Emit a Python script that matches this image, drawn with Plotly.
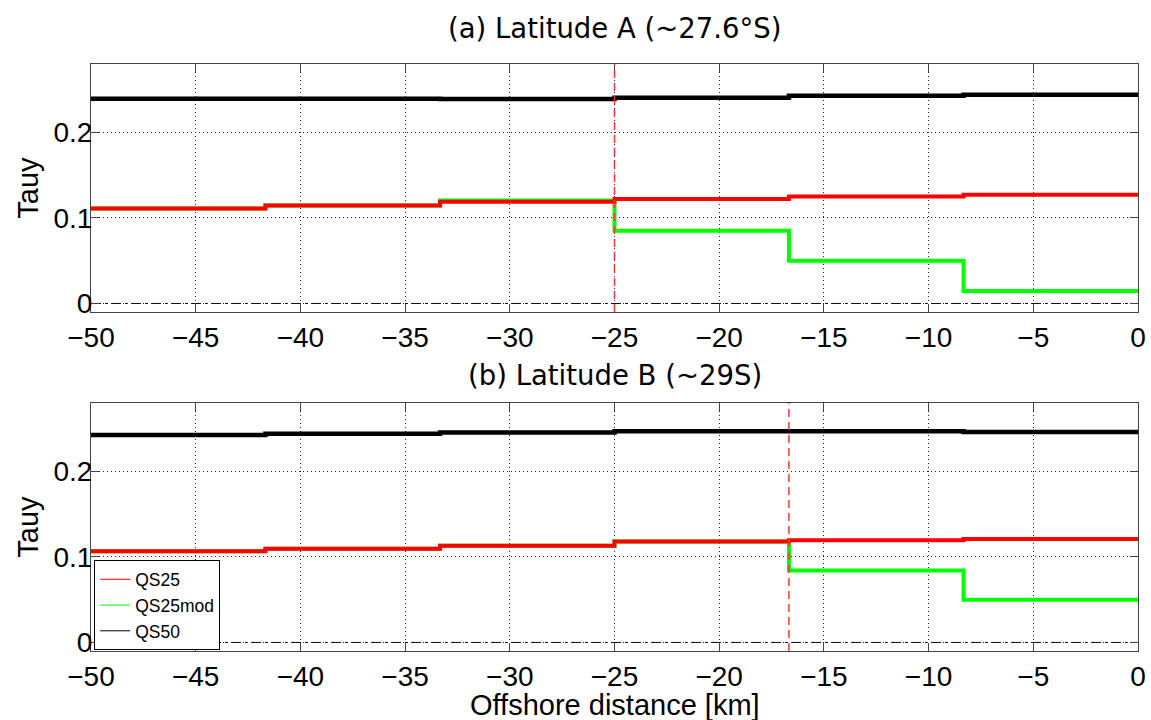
import plotly.graph_objects as go

# step edges (km)
edges = [-50, -41.67, -33.33, -25, -16.67, -8.33, 0]

# Panel (a) Latitude A
a_qs25 = [0.111, 0.1145, 0.119, 0.122, 0.125, 0.127]
a_qs25mod = [0.111, 0.1145, 0.1205, 0.085, 0.050, 0.0145]
a_qs50 = [0.2395, 0.2395, 0.239, 0.2405, 0.243, 0.244]
a_cut = -25

# Panel (b) Latitude B
b_qs25 = [0.1065, 0.1095, 0.113, 0.118, 0.1195, 0.121]
b_qs25mod = [0.1065, 0.1095, 0.113, 0.118, 0.084, 0.050]
b_qs50 = [0.2425, 0.244, 0.2455, 0.247, 0.247, 0.246]
b_cut = -16.67

x_ticks = [-50, -45, -40, -35, -30, -25, -20, -15, -10, -5, 0]
y_ticks = [0, 0.1, 0.2]
y_ticktext = ["0", "0.1", "0.2"]

titles = ["(a) Latitude A (~27.6°S)", "(b) Latitude B (~29S)"]
x_label = "Offshore distance [km]"
names = ["QS25", "QS25mod", "QS50"]
colors = ["#ff0000", "#00ff00", "#000000"]

def step(vals):
    return list(edges), list(vals) + [vals[-1]]

fig = go.Figure()

panels = [
    ("x", "y", a_qs25, a_qs25mod, a_qs50),
    ("x2", "y2", b_qs25, b_qs25mod, b_qs50),
]
for xa, ya, r, g, k in panels:
    for vals, col, w in [(k, colors[2], 4.5), (g, colors[1], 4), (r, colors[0], 4)]:
        xs, ys = step(vals)
        fig.add_trace(go.Scatter(x=xs, y=ys, mode="lines", line=dict(color=col, width=w, shape="hv"),
                                 xaxis=xa, yaxis=ya, showlegend=False, hoverinfo="skip"))

# legend entries (thin lines)
for n, c in zip(names, colors):
    fig.add_trace(go.Scatter(x=[None], y=[None], mode="lines", name=n,
                             line=dict(color=c, width=1), xaxis="x2", yaxis="y2"))

shapes = []
for xa, ya, cut in [("x", "y", a_cut), ("x2", "y2", b_cut)]:
    shapes.append(dict(type="line", xref=xa, yref=ya + " domain", x0=cut, x1=cut, y0=0, y1=1,
                       line=dict(color="#ff3535", width=1.5, dash="8px,5px"), layer="above"))
    shapes.append(dict(type="line", xref=xa + " domain", yref=ya, x0=0, x1=1, y0=0, y1=0,
                       line=dict(color="#000000", width=1, dash="10px,4px,2px,4px"), layer="below"))

SANS = "Liberation Sans, Arial, Helvetica, sans-serif"
tickfont = dict(family=SANS, size=28, color="#000")
axis_common = dict(showline=True, linecolor="#444", linewidth=1, mirror="ticks", ticks="inside",
                   ticklen=8, tickcolor="#444", showgrid=True, gridcolor="#222", gridwidth=1,
                   griddash="1px,3px", zeroline=False, tickfont=tickfont, automargin=False)
ytitle = dict(text="Tauy", font=dict(family=SANS, size=29, color="#000"), standoff=6)

fig.update_layout(
    width=1151, height=720,
    margin=dict(l=91, r=13, t=64, b=69),
    plot_bgcolor="white", paper_bgcolor="white",
    xaxis=dict(axis_common, domain=[0, 1], range=[-50, 0], tickvals=x_ticks, anchor="y"),
    yaxis=dict(axis_common, domain=[0.5775, 1], range=[-0.01, 0.28], tickvals=y_ticks,
               ticktext=y_ticktext, anchor="x", ticklabelstandoff=-8, title=ytitle),
    xaxis2=dict(axis_common, domain=[0, 1], range=[-50, 0], tickvals=x_ticks, anchor="y2"),
    yaxis2=dict(axis_common, domain=[0, 0.4225], range=[-0.01, 0.28], tickvals=y_ticks,
                ticktext=y_ticktext, anchor="x2", ticklabelstandoff=-8, title=ytitle),
    shapes=shapes,
    showlegend=True,
    legend=dict(x=0.003, y=0.001, xanchor="left", yanchor="bottom", bgcolor="white",
                bordercolor="#000", borderwidth=1, itemwidth=30, tracegroupgap=0,
                font=dict(family=SANS, size=17.5, color="#000")),
    annotations=[
        dict(text=titles[0], xref="paper", yref="paper", x=0.5, y=1.0, yshift=18, xanchor="center",
             yanchor="bottom", showarrow=False, font=dict(family="DejaVu Sans", size=27.5, color="#000")),
        dict(text=titles[1], xref="paper", yref="paper", x=0.5, y=0.4225, yshift=10, xanchor="center",
             yanchor="bottom", showarrow=False, font=dict(family="DejaVu Sans", size=27.5, color="#000")),
        dict(text=x_label, xref="paper", yref="paper", x=0.5, y=0, yshift=-36, xanchor="center",
             yanchor="top", showarrow=False, font=dict(family=SANS, size=29, color="#000")),
    ],
)

fig.write_html("out.html")
